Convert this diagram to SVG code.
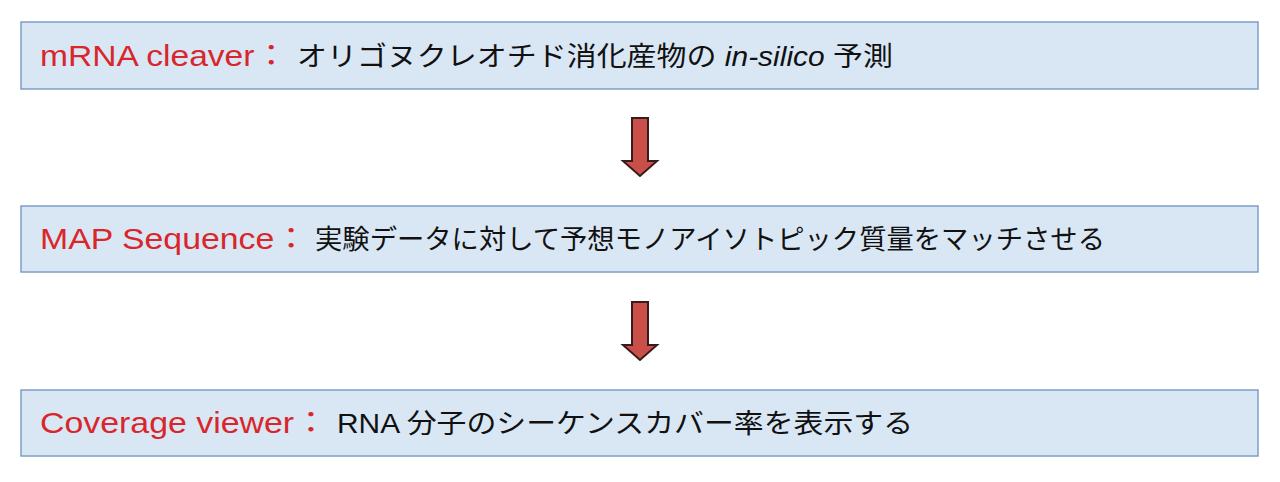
<svg xmlns="http://www.w3.org/2000/svg" width="1280" height="482" viewBox="0 0 1280 482">
<style>
.box{fill:#d9e7f5;stroke:#7d9fc6;stroke-width:1.5}
.t{font-family:"Liberation Sans","Noto Sans CJK JP",sans-serif;font-size:27px;fill:#111}
.r{fill:#d8262b;font-size:29px}
.arr{fill:#c9504a;stroke:#3a1a1a;stroke-width:2}
</style>
<rect width="1280" height="482" fill="#fff"/>
<g id="n1"><rect class="box" x="21" y="22" width="1237" height="67"/>
<text class="t r" x="40" y="66" textLength="248" lengthAdjust="spacingAndGlyphs">mRNA cleaver：</text>
<text class="t" x="297" y="66" textLength="596" lengthAdjust="spacingAndGlyphs">オリゴヌクレオチド消化産物の <tspan font-style="italic">in-silico</tspan> 予測</text></g>
<g id="n2"><rect class="box" x="21" y="206" width="1237" height="66"/>
<text class="t r" x="40" y="249" textLength="268" lengthAdjust="spacingAndGlyphs">MAP Sequence：</text>
<text class="t" x="315" y="249" textLength="790" lengthAdjust="spacingAndGlyphs">実験データに対して予想モノアイソトピック質量をマッチさせる</text></g>
<g id="n3"><rect class="box" x="21" y="390" width="1237" height="66"/>
<text class="t r" x="40" y="433" textLength="288" lengthAdjust="spacingAndGlyphs">Coverage viewer：</text>
<text class="t" x="337" y="433" textLength="576" lengthAdjust="spacingAndGlyphs">RNA 分子のシーケンスカバー率を表示する</text></g>
<g id="connectors">
<path class="arr" d="M632 118H648V161H657L640 176L623 161H632Z"/>
<path class="arr" d="M632 302H648V345H657L640 360L623 345H632Z"/>
</g>
</svg>
